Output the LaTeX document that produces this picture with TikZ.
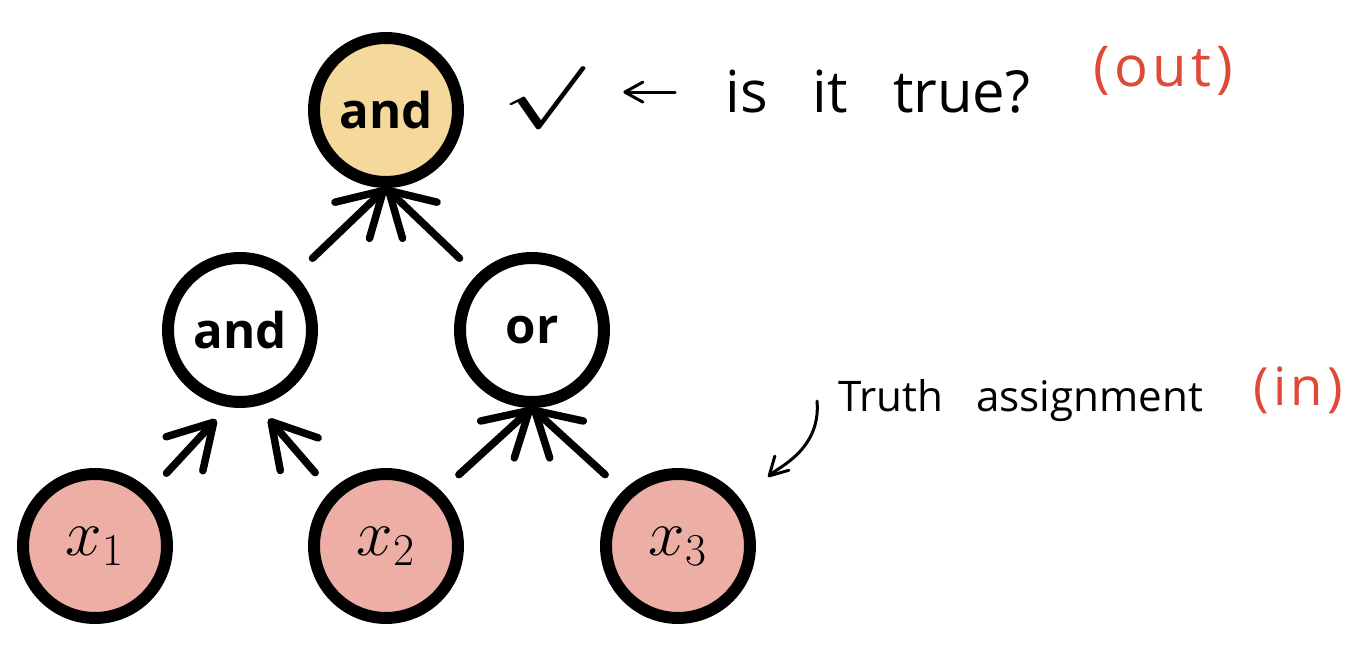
\documentclass[tikz,border=0pt]{standalone}
\usepackage{amsmath}
\usepackage{fontspec}
\setmainfont{Open Sans}
\newfontfamily\handfont[WordSpace=3]{Open Sans}
\usetikzlibrary{arrows.meta}
\definecolor{rootfill}{HTML}{F5D89B}
\definecolor{leaffill}{HTML}{EDAEA6}
\definecolor{notered}{HTML}{DE4A35}
\newcommand{\invar}[1]{\scalebox{1.5}{$x_{#1}$}}
\tikzset{
  gate/.style={circle, draw, line width=0.24cm, minimum size=2.88cm, inner sep=0pt,
    font=\fontsize{28}{30}\selectfont\bfseries}, % cong logic
  leaf/.style={gate, fill=leaffill, font=\fontsize{24}{24}\selectfont}, % bien vao
  wire/.style={line width=0.15cm, line cap=round, shorten <=0.48cm,
    -{Straight Barb[length=0.86cm,width=1cm,round]}},
  note/.style={inner sep=0pt, font=\handfont\fontsize{33}{35}\selectfont},
  notered/.style={note, text=notered, font=\fontsize{32}{34}\selectfont\addfontfeatures{LetterSpace=8}},
  notearrow/.style={line width=0.06cm, line cap=round,
    -{Straight Barb[length=0.36cm,width=0.4cm,round]}}
}
\begin{document}
\begin{tikzpicture}[x=0.02cm,y=0.02cm]
\useasboundingbox (0,0) rectangle (1362,658);
% cac cong
\node[gate, fill=rootfill] (top) at (386,548) {and};
\node[gate] (gand) at (240,328) {and};
\node[gate] (gor) at (532,328) {or};
% bien vao
\node[leaf] (x1) at (95,112) {\invar{1}};
\node[leaf] (x2) at (386,112) {\invar{2}};
\node[leaf] (x3) at (678,112) {\invar{3}};
% day noi
\draw[wire] (gand.45) -- (top.south);
\draw[wire] (gor.135) -- (top.south);
\draw[wire, shorten >=0.34cm] (x1.45) -- (gand.261);
\draw[wire, shorten >=0.34cm] (x2.135) -- (gand.283);
\draw[wire] (x2.45) -- (gor.south);
\draw[wire] (x3.135) -- (gor.south);
% ghi chu
\node[inner sep=0pt] (tick) at (543,560) {\resizebox*{1.6cm}{1.26cm}{$\boldsymbol{\surd}$}};
\node[note, anchor=base west] (ask) at (725,545) {is it true?};
\node[notered, anchor=base west] (out) at (1093,571) {(out)};
\draw[notearrow, shorten <=1cm, shorten >=0.8cm] (ask.west) -- (ask.west -| tick.east);
\node[note, anchor=base west, font=\handfont\fontsize{24}{26}\selectfont] (ta) at (838,246) {Truth assignment};
\node[notered, anchor=base west, font=\fontsize{30}{32}\selectfont\addfontfeatures{LetterSpace=8}]
  (in) at (1253,252) {(in)};
\draw[notearrow, shorten >=0.72cm] ([xshift=-0.42cm]ta.west) to[out=-85,in=45] (x3.34);
\end{tikzpicture}
\end{document}
